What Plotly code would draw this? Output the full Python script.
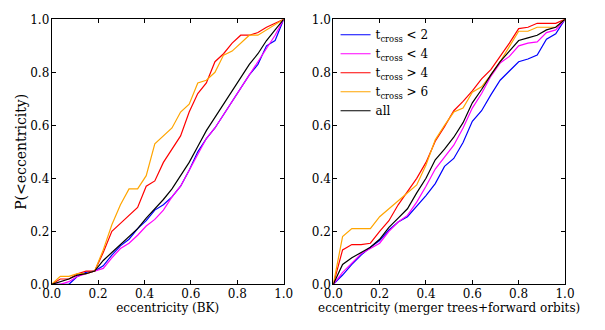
import plotly.graph_objects as go

# left panel: eccentricity (BK), bins of 1/27
ecc_bk = [k / 27 for k in range(28)]
bk_t2 = [0, 0, 0, 0.03, 0.045, 0.05, 0.07, 0.11, 0.145, 0.17, 0.21, 0.24, 0.28, 0.30,
         0.33, 0.37, 0.43, 0.50, 0.55, 0.59, 0.64, 0.69, 0.74, 0.79, 0.83, 0.90, 0.92, 1.0]
bk_t4 = [0, 0, 0.01, 0.03, 0.04, 0.05, 0.06, 0.10, 0.135, 0.155, 0.185, 0.22, 0.245, 0.28,
         0.33, 0.37, 0.43, 0.49, 0.55, 0.59, 0.64, 0.69, 0.74, 0.79, 0.84, 0.89, 0.94, 1.0]
bk_gt4 = [0, 0.02, 0.02, 0.04, 0.05, 0.05, 0.12, 0.20, 0.23, 0.26, 0.29, 0.37, 0.39, 0.46,
          0.51, 0.56, 0.65, 0.72, 0.76, 0.84, 0.87, 0.91, 0.94, 0.94, 0.95, 0.97, 0.985, 1.0]
bk_gt6 = [0, 0.03, 0.03, 0.04, 0.04, 0.05, 0.13, 0.225, 0.30, 0.36, 0.36, 0.41, 0.53, 0.56,
          0.59, 0.65, 0.68, 0.76, 0.77, 0.80, 0.865, 0.88, 0.91, 0.94, 0.94, 0.96, 0.98, 1.0]
bk_all = [0, 0.01, 0.02, 0.035, 0.04, 0.05, 0.09, 0.12, 0.15, 0.18, 0.21, 0.25, 0.285, 0.32,
          0.36, 0.41, 0.46, 0.52, 0.58, 0.63, 0.68, 0.73, 0.78, 0.83, 0.87, 0.92, 0.96, 1.0]

# right panel: eccentricity (merger trees + forward orbits), bins of 0.04
ecc_mt = [k * 0.04 for k in range(26)]
mt_t2 = [0, 0.035, 0.075, 0.11, 0.14, 0.165, 0.205, 0.235, 0.255, 0.295, 0.335, 0.38, 0.445,
         0.475, 0.535, 0.615, 0.655, 0.715, 0.77, 0.805, 0.84, 0.85, 0.865, 0.925, 0.945, 1.0]
mt_t4 = [0, 0.045, 0.08, 0.115, 0.135, 0.155, 0.20, 0.235, 0.26, 0.31, 0.37, 0.435, 0.48,
         0.525, 0.59, 0.665, 0.72, 0.785, 0.835, 0.86, 0.90, 0.91, 0.915, 0.95, 0.96, 1.0]
mt_gt4 = [0, 0.13, 0.15, 0.15, 0.155, 0.20, 0.24, 0.30, 0.35, 0.40, 0.46, 0.54, 0.595,
          0.655, 0.69, 0.73, 0.775, 0.81, 0.86, 0.91, 0.965, 0.97, 0.985, 0.985, 0.985, 1.0]
mt_gt6 = [0, 0.18, 0.21, 0.21, 0.21, 0.255, 0.285, 0.315, 0.345, 0.375, 0.45, 0.545, 0.60,
          0.65, 0.665, 0.725, 0.745, 0.79, 0.84, 0.90, 0.955, 0.955, 0.97, 0.97, 0.97, 1.0]
mt_all = [0, 0.075, 0.10, 0.12, 0.14, 0.17, 0.215, 0.25, 0.285, 0.345, 0.40, 0.47, 0.51,
          0.555, 0.61, 0.685, 0.735, 0.79, 0.84, 0.88, 0.92, 0.93, 0.94, 0.96, 0.97, 1.0]

labels = ["t<sub>cross</sub> &lt; 2", "t<sub>cross</sub> &lt; 4",
          "t<sub>cross</sub> &gt; 4", "t<sub>cross</sub> &gt; 6", "all"]
colors = ["#0000ff", "#ff00ff", "#ff0000", "#ffa500", "#000000"]

fig = go.Figure()

# left panel, no legend
for ys, c in zip([bk_t2, bk_t4, bk_gt4, bk_gt6, bk_all], colors):
    fig.add_trace(go.Scatter(x=ecc_bk, y=ys, mode="lines", line=dict(color=c, width=1.2),
                             showlegend=False, xaxis="x", yaxis="y"))

# right panel, with legend
for ys, c, lab in zip([mt_t2, mt_t4, mt_gt4, mt_gt6, mt_all], colors, labels):
    fig.add_trace(go.Scatter(x=ecc_mt, y=ys, mode="lines", line=dict(color=c, width=1.2),
                             name=lab, xaxis="x2", yaxis="y2"))

ticks = [0, 0.2, 0.4, 0.6, 0.8, 1.0]
ticktext = ["0.0", "0.2", "0.4", "0.6", "0.8", "1.0"]
axis_style = dict(range=[0, 1], tickvals=ticks, ticktext=ticktext, showgrid=False,
                  zeroline=False, showline=True, linecolor="black", linewidth=1,
                  mirror="ticks", ticks="inside", ticklen=4, tickcolor="black",
                  automargin=False, tickfont=dict(size=12, color="black"))

# the page body adds an 8px margin, so the figure is a bit smaller than the window
fig.update_layout(
    width=597, height=322,
    margin=dict(l=0, r=0, t=0, b=0),
    plot_bgcolor="white", paper_bgcolor="white",
    font=dict(family="DejaVu Serif", size=12, color="black"),
    xaxis=dict(domain=[0.0732, 0.4618], anchor="y", ticklabelstandoff=-2,
               title=dict(text="eccentricity (BK)", standoff=0, font=dict(size=12)),
               **axis_style),
    yaxis=dict(domain=[0.1419, 0.9649], anchor="x", ticklabelstandoff=-1,
               title=dict(text="P(&lt;eccentricity)", standoff=0, font=dict(size=14)),
               **axis_style),
    xaxis2=dict(domain=[0.5449, 0.933], anchor="y2", ticklabelstandoff=-2,
                title=dict(text="eccentricity (merger trees+forward orbits)", standoff=0,
                           font=dict(size=12)),
                **axis_style),
    yaxis2=dict(domain=[0.1419, 0.9649], anchor="x2", ticklabelstandoff=-1, **axis_style),
    legend=dict(x=0.5487, y=0.962, xanchor="left", yanchor="top",
                bgcolor="rgba(0,0,0,0)", borderwidth=0,
                font=dict(size=12), tracegroupgap=0, itemwidth=30),
)

fig.write_html("out.html")
